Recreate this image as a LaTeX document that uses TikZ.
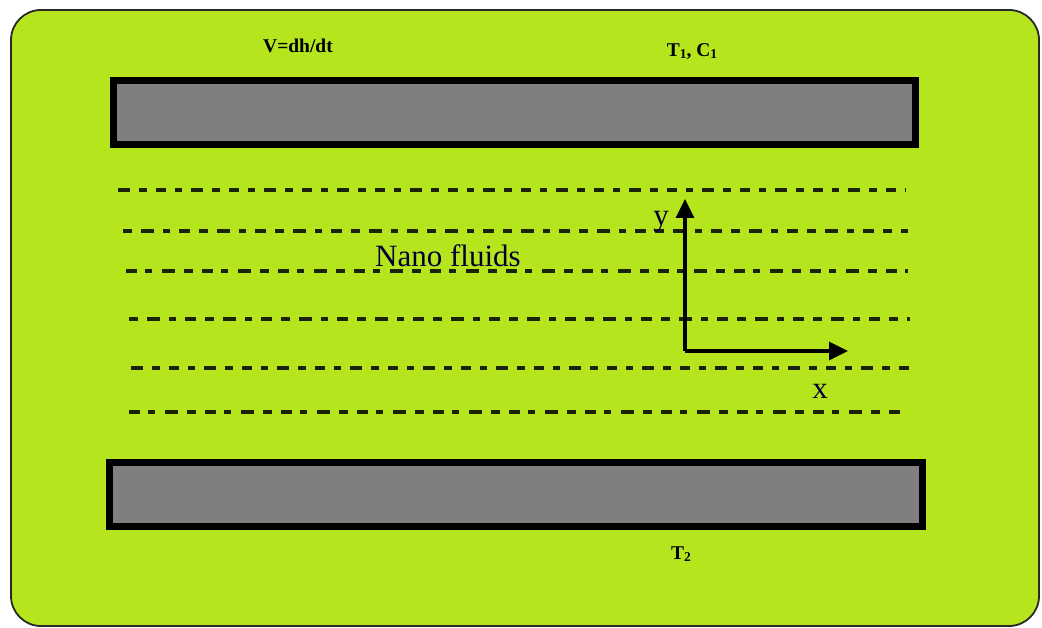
\documentclass[tikz,border=0pt]{standalone}
\usepackage{fontspec}
\setmainfont{Liberation Serif}
\usetikzlibrary{arrows.meta}
\definecolor{lime}{RGB}{181,230,29}
\definecolor{plategray}{RGB}{127,127,127}
\definecolor{rimgray}{RGB}{40,40,40}
\tikzset{
  panel/.style={draw=rimgray,line width=1.8pt,fill=lime,rounded corners=30pt},
  plate/.style={draw=black,line width=7pt,fill=plategray,inner sep=0pt,minimum height=64pt},
  flowline/.style={line width=3.6pt,draw=black!85!lime},
  pa/.style={dash pattern=on 12pt off 9pt on 8pt off 9pt on 10pt off 9pt on 7pt off 9pt},
  pb/.style={dash pattern=on 9pt off 9pt on 13pt off 9pt on 7pt off 9pt on 11pt off 9pt},
  pc/.style={dash pattern=on 11pt off 8pt on 7pt off 10pt on 13pt off 9pt on 9pt off 9pt},
  axis/.style={line width=3.2pt,-{Triangle[length=19pt,width=18pt]}},
  boldlbl/.style={inner sep=0pt,font=\bfseries\fontsize{19.5}{21}\selectfont},
  biglbl/.style={inner sep=0pt,font=\fontsize{31}{34}\selectfont,text=black!80!blue},
}
\newcommand{\lowsub}[1]{\raisebox{-1.5pt}{\fontsize{13.5}{14}\selectfont #1}}
\begin{document}
\begin{tikzpicture}[x=1pt,y=-1pt]
\useasboundingbox (0,0) rectangle (1042,628);
\fill[white] (0,0) rectangle (1042,628);
\draw[panel] (11,10) rectangle (1039,626);
% plates
\node[plate,minimum width=802pt] (top) at (514.5,112.5) {};
\node[plate,minimum width=813pt] (bot) at (516,494.5) {};
% dashed stream lines
\coordinate (l1a) at (118,190); \coordinate (l1b) at (906,190);
\coordinate (l2a) at (123,231); \coordinate (l2b) at (908,231);
\coordinate (l3a) at (126,271); \coordinate (l3b) at (908,271);
\coordinate (l4a) at (129,319); \coordinate (l4b) at (910,319);
\coordinate (l5a) at (131,368); \coordinate (l5b) at (911,368);
\coordinate (l6a) at (129,412); \coordinate (l6b) at (906,412);
\draw[flowline,pa] (l1a) -- (l1b);
\draw[flowline,pb] (l2a) -- (l2b);
\draw[flowline,pc] (l3a) -- (l3b);
\draw[flowline,pb] (l4a) -- (l4b);
\draw[flowline,pa] (l5a) -- (l5b);
\draw[flowline,pc] (l6a) -- (l6b);
% axes
\coordinate (O) at (685,351);
\coordinate (Yt) at (685,199);
\coordinate (Xt) at (848,351);
\draw[axis] (O) -- (Yt);
\draw[axis] (O) -- (Xt);
% labels
\node[boldlbl] (v) at (298,46) {V=dh/dt};
\node[boldlbl] (t1) at (692,52) {T\lowsub{1}, C\lowsub{1}};
\node[boldlbl] (t2) at (681,554) {T\lowsub{2}};
\node[biglbl] (nano) at (448,256) {Nano fluids};
\node[biglbl] (ylab) at (661,222) {y};
\node[biglbl] (xlab) at (820,391) {x};
\end{tikzpicture}
\end{document}
